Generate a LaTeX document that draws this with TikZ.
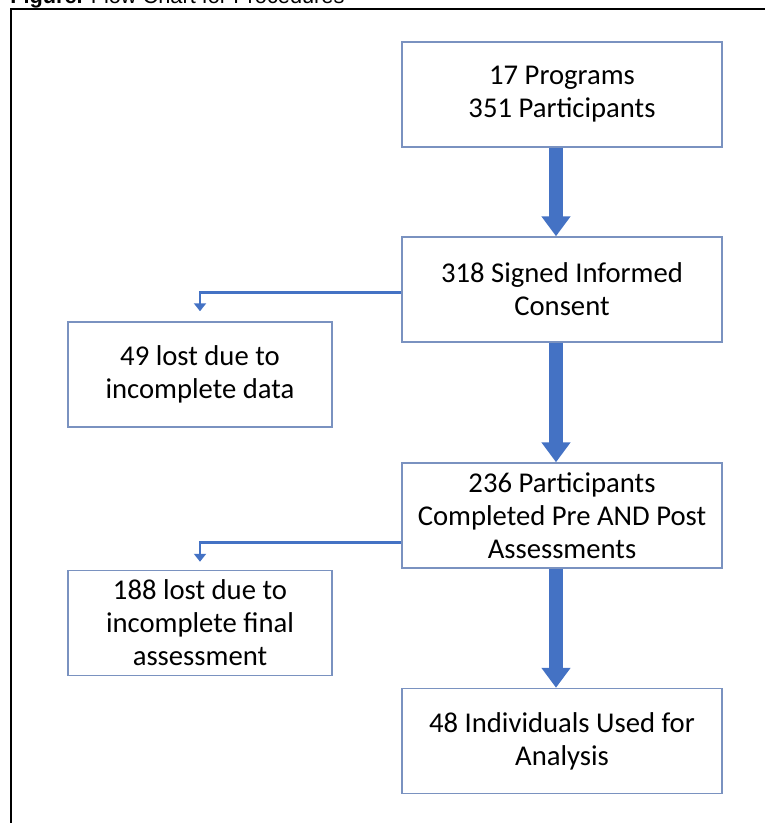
\documentclass[tikz,border=0pt]{standalone}
\usepackage{fontspec}
\setmainfont{Carlito}
\newfontfamily\titlefont{Liberation Sans}
\usetikzlibrary{arrows.meta}
\definecolor{boxline}{RGB}{122,146,192}
\definecolor{arrowblue}{RGB}{68,114,196}
\tikzset{
  stepbox/.style={draw=boxline, line width=1.1pt, minimum width=240pt, minimum height=78.75pt,
    inner sep=0pt, align=center, font=\fontsize{21.5}{24.75}\selectfont},
  lostbox/.style={stepbox, minimum width=198pt},
  bigarrow/.style={arrowblue, line width=10.5pt, -{Triangle[width=21pt,length=15pt]}},
  sidearrow/.style={arrowblue, line width=2.2pt, -{Triangle[width=9pt,length=6pt]}}
}
\begin{document}
\begin{tikzpicture}[x=0.75pt,y=-0.75pt]
        \useasboundingbox (0,0) rectangle (765,823);
        % Title and frame
        \node[anchor=base west, inner sep=0pt, font=\titlefont\fontsize{16.3}{18}\selectfont] (title) at (10,3.5) {\textbf{Figure.} Flow Chart for Procedures};
        \draw[line width=0.8pt] (11,823) -- (11,9) -- (765,9);

        % Main column
        \node[stepbox] (prog) at (562,94.5) {17 Programs\\351 Participants};
        \node[stepbox] (consent) at (562,289.5) {318 Signed Informed\\Consent};
        \node[stepbox] (prepost) at (562,515.5) {236 Participants\\Completed Pre AND Post\\Assessments};
        \node[stepbox] (analysis) at (562,741) {48 Individuals Used for\\Analysis};

        % Side boxes
        \node[lostbox] (lostdata) at (200,374.5) {49 lost due to\\incomplete data};
        \node[lostbox] (lostfinal) at (200,623) {188 lost due to\\incomplete final\\assessment};

        % Big arrows
        \draw[bigarrow] ([xshift=-4.5pt]prog.south) -- ([xshift=-4.5pt]consent.north);
        \draw[bigarrow] ([xshift=-4.5pt]consent.south) -- ([xshift=-4.5pt]prepost.north);
        \draw[bigarrow] ([xshift=-4.5pt]prepost.south) -- ([xshift=-4.5pt]analysis.north);

        % Side arrows
        \draw[sidearrow] ([yshift=-2pt]consent.west) -| ([yshift=7.5pt]lostdata.north);
        \draw[sidearrow] ([yshift=-20pt]prepost.west) -| ([yshift=6pt]lostfinal.north);
\end{tikzpicture}
\end{document}
